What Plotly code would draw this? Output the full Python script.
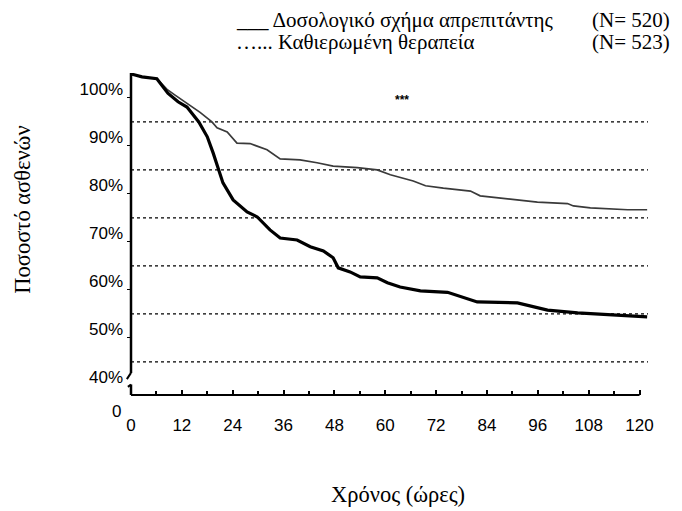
import plotly.graph_objects as go

# ---------------- data ----------------
hours_aprepitant = [0, 2.6, 6.1, 8.5, 10.4, 12.7, 14.0, 16.3, 19.1, 20.3, 22.7, 25.0, 28.1, 32.1,
                    35.2, 39.9, 43.9, 47.7, 53.4, 58.1, 61.2, 63.5, 66.6, 69.5, 73.7, 80.1, 82.4,
                    89.5, 95.9, 103.0, 104.4, 108.4, 117.2, 121.8]
pct_aprepitant = [100, 99.4, 99.0, 96.8, 95.6, 94.2, 93.3, 92.0, 90.0, 88.8, 87.9, 85.6, 85.5, 84.2,
                  82.3, 82.1, 81.5, 80.8, 80.5, 80.0, 79.0, 78.4, 77.7, 76.7, 76.2, 75.6, 74.6,
                  73.9, 73.3, 73.0, 72.5, 72.1, 71.7, 71.7]

hours_standard = [0, 2.6, 6.1, 8.7, 11.1, 13.2, 16.0, 17.0, 18.0, 19.4, 20.6, 21.7, 24.1, 27.4,
                  29.8, 32.8, 35.2, 39.2, 42.3, 45.4, 47.7, 48.9, 51.7, 54.1, 58.1, 60.5, 63.5,
                  68.3, 74.7, 81.7, 91.2, 98.3, 105.4, 114.8, 121.8]
pct_standard = [100, 99.4, 99.0, 96.0, 94.2, 93.1, 90.0, 88.5, 86.9, 83.5, 80.0, 77.3, 73.75, 71.25,
                70.2, 67.5, 65.8, 65.4, 64.0, 63.1, 61.7, 59.6, 58.75, 57.7, 57.5, 56.5, 55.6,
                54.8, 54.5, 52.5, 52.3, 50.8, 50.2, 49.8, 49.4]

x_tick_vals = [0, 12, 24, 36, 48, 60, 72, 84, 96, 108, 120]
x_tick_text = ["0", "12", "24", "36", "48", "60", "72", "84", "96", "108", "120"]
y_tick_vals = [40, 50, 60, 70, 80, 90, 100]
y_tick_text = ["40%", "50%", "60%", "70%", "80%", "90%", "100%"]
y_minor_vals = [45, 55, 65, 75, 85, 95]
grid_vals = [40, 50, 60, 70, 80, 90]

legend_names = ["Δοσολογικό σχήμα απρεπιτάντης", "Καθιερωμένη θεραπεία"]
legend_n = ["(N= 520)", "(N= 523)"]

X_RANGE = [0, 122]
Y_RANGE = [33.1, 100.2]

SERIF = "Liberation Serif, DejaVu Serif, serif"
SANS = "Liberation Sans, Arial, sans-serif"


def ypaper(v):
    return (v - Y_RANGE[0]) / (Y_RANGE[1] - Y_RANGE[0])


fig = go.Figure()
fig.add_trace(go.Scatter(x=hours_aprepitant, y=pct_aprepitant, mode="lines",
                         line=dict(color="#3a3a3a", width=1.7), name=legend_names[0],
                         showlegend=False))
fig.add_trace(go.Scatter(x=hours_standard, y=pct_standard, mode="lines",
                         line=dict(color="black", width=3.2), name=legend_names[1],
                         showlegend=False))

shapes = []
for g in grid_vals:
    shapes.append(dict(type="line", xref="paper", yref="y", x0=0, x1=1, y0=g, y1=g,
                       line=dict(color="black", width=1.3, dash="dot"), layer="below"))
# y axis line with break
shapes.append(dict(type="line", xref="paper", yref="paper", x0=0, x1=0,
                   y0=ypaper(37.7), y1=1, line=dict(color="black", width=2.5)))
shapes.append(dict(type="line", xref="paper", yref="paper", x0=0, x1=-0.008,
                   y0=ypaper(37.7), y1=ypaper(36.4), line=dict(color="black", width=2)))
shapes.append(dict(type="line", xref="paper", yref="paper", x0=-0.006, x1=0,
                   y0=ypaper(34.8), y1=ypaper(35.3), line=dict(color="black", width=2)))
shapes.append(dict(type="line", xref="paper", yref="paper", x0=0, x1=0,
                   y0=0, y1=ypaper(35.3), line=dict(color="black", width=2.5)))
# x axis line
shapes.append(dict(type="line", xref="x", yref="paper", x0=0, x1=120, y0=0, y1=0,
                   line=dict(color="black", width=2)))

annotations = []
# legend
leg_y = [1.165, 1.095]
LEG_SIZE = 21
annotations.append(dict(xref="paper", yref="paper", x=0.2, y=leg_y[0], xanchor="left",
                        yanchor="middle", showarrow=False,
                        text="___ " + legend_names[0],
                        font=dict(family=SERIF, size=LEG_SIZE, color="black")))
annotations.append(dict(xref="paper", yref="paper", x=0.2, y=leg_y[1], xanchor="left",
                        yanchor="middle", showarrow=False,
                        text="…... " + legend_names[1],
                        font=dict(family=SERIF, size=LEG_SIZE, color="black")))
for i in range(2):
    annotations.append(dict(xref="paper", yref="paper", x=0.888, y=leg_y[i], xanchor="left",
                            yanchor="middle", showarrow=False, text=legend_n[i],
                            font=dict(family=SERIF, size=LEG_SIZE, color="black")))
# significance marker
annotations.append(dict(xref="x", yref="y", x=64.0, y=94.5, showarrow=False, text="<b>***</b>",
                        font=dict(family=SANS, size=12, color="black")))
# y "0" label
annotations.append(dict(xref="paper", yref="paper", x=0, y=0, xanchor="right", yanchor="middle",
                        xshift=-8, yshift=-16, showarrow=False, text="0",
                        font=dict(family=SANS, size=17, color="black")))
# axis titles
annotations.append(dict(xref="paper", yref="paper", x=-0.21, y=0.577, textangle=-90,
                        xanchor="center", yanchor="middle",
                        showarrow=False, text="Ποσοστό ασθενών",
                        font=dict(family=SERIF, size=22.5, color="black")))
annotations.append(dict(xref="paper", yref="paper", x=0.517, y=-0.31,
                        xanchor="center", yanchor="middle",
                        showarrow=False, text="Χρόνος (ώρες)",
                        font=dict(family=SERIF, size=22.5, color="black")))

fig.update_layout(
    width=674, height=503,
    margin=dict(l=123, r=34, t=65, b=116),
    paper_bgcolor="white", plot_bgcolor="white",
    shapes=shapes, annotations=annotations, showlegend=False,
    xaxis=dict(range=X_RANGE, showgrid=False, zeroline=False, showline=False,
               tickvals=x_tick_vals, ticktext=x_tick_text, ticks="inside", ticklen=5,
               tickwidth=1.5, tickcolor="black", ticklabelstandoff=18,
               tickfont=dict(family=SANS, size=17, color="black"),
               minor=dict(dtick=6, tick0=0, ticks="inside", ticklen=4, tickcolor="black",
                          showgrid=False)),
    yaxis=dict(range=Y_RANGE, showgrid=False, zeroline=False, showline=False,
               tickvals=y_tick_vals, ticktext=y_tick_text, ticks="", ticklabelstandoff=7,
               ticklabelshift=15,
               tickfont=dict(family=SANS, size=17, color="black"),
               minor=dict(tickvals=y_minor_vals, ticks="outside", ticklen=3,
                          tickcolor="black", showgrid=False)),
)

fig.write_html("out.html")
